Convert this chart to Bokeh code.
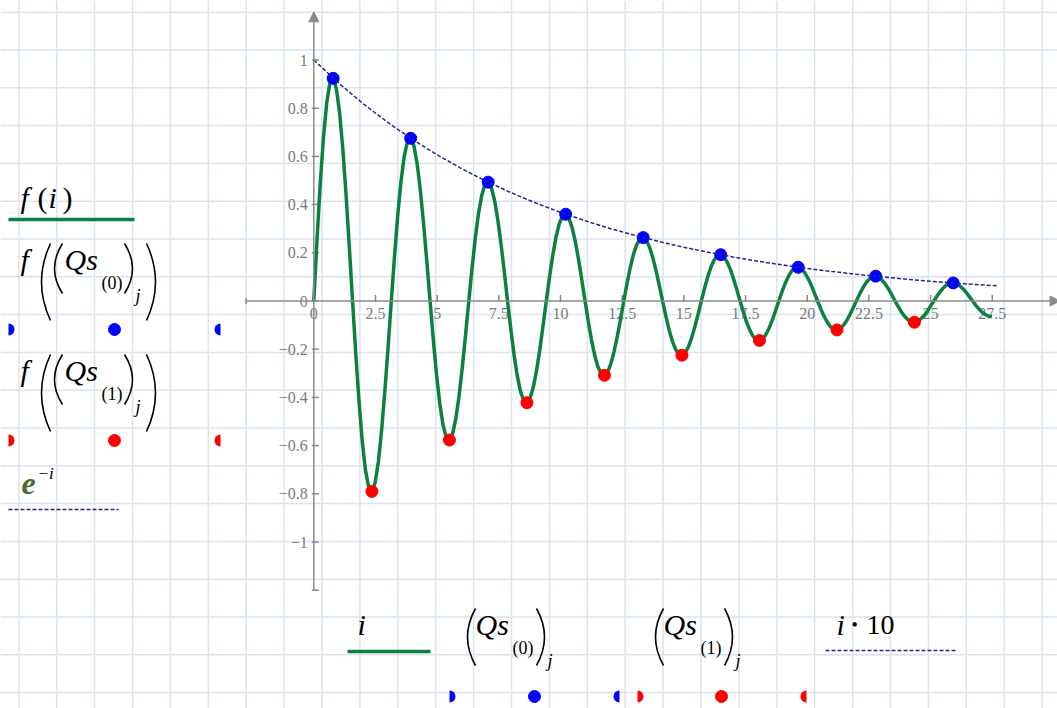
import numpy as np
from bokeh.plotting import figure
from bokeh.models import Range1d, Arrow, NormalHead
from bokeh.core.properties import value
from bokeh.embed import file_html
from bokeh.resources import INLINE

# ---------------------------------------------------------------- data
# f(i) sampled on a uniform grid of i (step in i units)
f_step = 0.1309
f_vals = [
    0, 0.255, 0.487, 0.680, 0.822, 0.905, 0.924, 0.881, 0.780, 0.629, 0.439, 0.224,
    0, -0.218, -0.416, -0.581, -0.702, -0.773, -0.790, -0.753, -0.667, -0.537, -0.375, -0.192,
    0, 0.187, 0.356, 0.497, 0.600, 0.661, 0.675, 0.644, 0.570, 0.459, 0.320, 0.164,
    0, -0.159, -0.304, -0.424, -0.513, -0.565, -0.577, -0.550, -0.487, -0.392, -0.274, -0.140,
    0, 0.136, 0.260, 0.363, 0.438, 0.483, 0.493, 0.470, 0.416, 0.335, 0.234, 0.120,
    0, -0.116, -0.222, -0.310, -0.375, -0.413, -0.422, -0.402, -0.356, -0.287, -0.200, -0.102,
    0, 0.100, 0.190, 0.265, 0.320, 0.353, 0.360, 0.343, 0.304, 0.245, 0.171, 0.087,
    0, -0.085, -0.162, -0.226, -0.274, -0.301, -0.308, -0.294, -0.260, -0.209, -0.146, -0.075,
    0, 0.073, 0.139, 0.194, 0.234, 0.257, 0.263, 0.251, 0.222, 0.179, 0.125, 0.064,
    0, -0.062, -0.118, -0.165, -0.200, -0.220, -0.225, -0.214, -0.190, -0.153, -0.107, -0.055,
    0, 0.053, 0.101, 0.141, 0.171, 0.188, 0.192, 0.183, 0.162, 0.131, 0.091, 0.047,
    0, -0.045, -0.087, -0.121, -0.146, -0.161, -0.164, -0.157, -0.139, -0.112, -0.078, -0.040,
    0, 0.039, 0.074, 0.103, 0.125, 0.137, 0.140, 0.134, 0.118, 0.095, 0.067, 0.034,
    0, -0.033, -0.063, -0.088, -0.107, -0.117, -0.120, -0.114, -0.101, -0.082, -0.057, -0.029,
    0, 0.028, 0.054, 0.075, 0.091, 0.100, 0.103, 0.098, 0.086, 0.070, 0.049, 0.025,
    0, -0.024, -0.046, -0.064, -0.078, -0.086, -0.088, -0.084, -0.074, -0.060, -0.042, -0.021,
    0, 0.021, 0.039, 0.055, 0.067, 0.073, 0.075, 0.071, 0.063, 0.051, 0.036, 0.018,
    0, -0.018, -0.034, -0.047, -0.057, -0.063, -0.064,
]

# maxima (Qs(0)) and minima (Qs(1))
qs0_x = [0.785, 3.927, 7.069, 10.210, 13.352, 16.493, 19.635, 22.777, 25.918]
qs0_y = [0.924, 0.675, 0.493, 0.360, 0.263, 0.192, 0.140, 0.103, 0.075]
qs1_x = [2.356, 5.498, 8.639, 11.781, 14.923, 18.064, 21.206, 24.347]
qs1_y = [-0.790, -0.577, -0.422, -0.308, -0.225, -0.164, -0.120, -0.088]

# envelope e^-i plotted against i*10
env_i = [0, 0.1, 0.2, 0.3, 0.4, 0.5, 0.6, 0.7, 0.8, 0.9, 1.0, 1.1, 1.2, 1.3, 1.4,
         1.5, 1.6, 1.7, 1.8, 1.9, 2.0, 2.1, 2.2, 2.3, 2.4, 2.5, 2.6, 2.7, 2.77]
env_vals = [1.0, 0.9048, 0.8187, 0.7408, 0.6703, 0.6065, 0.5488, 0.4966, 0.4493,
            0.4066, 0.3679, 0.3329, 0.3012, 0.2725, 0.2466, 0.2231, 0.2019, 0.1827,
            0.1653, 0.1496, 0.1353, 0.1225, 0.1108, 0.1003, 0.0907, 0.0821, 0.0743,
            0.0672, 0.0627]

x_ticks = [0, 2.5, 5, 7.5, 10, 12.5, 15, 17.5, 20, 22.5, 25, 27.5]
x_tick_labels = ["0", "2.5", "5", "7.5", "10", "12.5", "15", "17.5", "20", "22.5", "25", "27.5"]
y_ticks = [1, 0.8, 0.6, 0.4, 0.2, 0, -0.2, -0.4, -0.6, -0.8, -1]
y_tick_labels = ["1", "0.8", "0.6", "0.4", "0.2", "0", "\u22120.2", "\u22120.4",
                 "\u22120.6", "\u22120.8", "\u22121"]
x_lim = (-2.75, 30.25)
y_lim = (-1.2, 1.2)

# ---------------------------------------------------------------- styling
W, H = 1057, 708
GREEN = "#0b8040"
NAVY = "#26268c"
AXIS = "#8a8a8a"
LABEL = "#7a7a7a"
GRIDC = "#d9e4f0"
SERIF = value("Liberation Serif")

# screen placement of the plot origin and its scale (pixels per unit)
X0_PX, X_SCALE = 313.3, 24.67
Y0_PX, Y_SCALE = 300.5, 241.0

p = figure(width=W, height=H, x_range=Range1d(0, W), y_range=Range1d(H, 0),
           output_backend="svg", toolbar_location=None,
           x_axis_type=None, y_axis_type=None, min_border=0)
p.outline_line_color = None
p.background_fill_color = "white"
p.border_fill_color = "white"
p.extra_x_ranges = {"dx": Range1d(-X0_PX / X_SCALE, (W - X0_PX) / X_SCALE)}
p.extra_y_ranges = {"dy": Range1d((Y0_PX - H) / Y_SCALE, Y0_PX / Y_SCALE)}
D = dict(x_range_name="dx", y_range_name="dy")

# worksheet grid paper
gx = 18.3 + 37.9 * np.arange(28)
gy = 11.7 + 37.8 * np.arange(19)
p.segment(x0=gx, y0=0, x1=gx, y1=H, line_color=GRIDC, line_width=1.5)
p.segment(x0=0, y0=gy, x1=W, y1=gy, line_color=GRIDC, line_width=1.5)

# crossing axes with arrow heads
head = dict(size=10, fill_color=AXIS, line_color=AXIS, line_width=1)
p.add_layout(Arrow(end=NormalHead(**head), x_start=x_lim[0], y_start=0, x_end=x_lim[1], y_end=0,
                   line_color=AXIS, line_width=1.5, **D))
p.add_layout(Arrow(end=NormalHead(**head), x_start=0, y_start=y_lim[0], x_end=0, y_end=y_lim[1],
                   line_color=AXIS, line_width=1.5, **D))

tx_len = 6 / Y_SCALE
ty_len = 5 / X_SCALE
p.segment(x0=x_ticks, y0=-1 / Y_SCALE, x1=x_ticks, y1=tx_len, line_color=AXIS, line_width=1.5, **D)
p.segment(x0=[x_lim[0]], y0=[-tx_len / 2], x1=[x_lim[0]], y1=[tx_len / 2], line_color=AXIS, line_width=1.5, **D)
p.segment(x0=-2 / X_SCALE, y0=y_ticks, x1=ty_len, y1=y_ticks, line_color=AXIS, line_width=1.5, **D)
p.segment(x0=[-2 / X_SCALE], y0=[y_lim[0]], x1=[ty_len], y1=[y_lim[0]], line_color=AXIS, line_width=1.5, **D)

p.text(x=x_ticks, y=0, text=x_tick_labels, text_font=SERIF, text_font_size="16px",
       text_color=LABEL, text_align="center", text_baseline="top", y_offset=7, **D)
p.text(x=0, y=y_ticks, text=y_tick_labels, text_font=SERIF, text_font_size="16px",
       text_color=LABEL, text_align="right", text_baseline="middle", x_offset=-6, **D)

# traces
f_x = np.arange(len(f_vals)) * f_step
p.line(f_x, f_vals, line_color=GREEN, line_width=3.5, **D)
p.scatter(qs0_x, qs0_y, size=12, fill_color="#0000ff", line_color="#0000ff", **D)
p.scatter(qs1_x, qs1_y, size=12, fill_color="#ff0000", line_color="#ff0000", **D)
p.line(np.array(env_i) * 10, env_vals, line_color=NAVY, line_width=1.5, line_dash="4 2", **D)

# ---------------------------------------------------------------- trace labels
def txt(x, y, s, size, style="italic", color="black"):
    # y is the intended baseline; lift by the descent so the glyphs sit on it
    p.text(x=[x], y=[y - 0.3 * size], text=[s], text_font=SERIF, text_font_size=f"{size}px",
           text_font_style=style, text_color=color, text_baseline="alphabetic", text_align="left")


def paren(xe, top, bot, bulge, left=True):
    cx = xe - 2 * bulge if left else xe + 2 * bulge
    p.quadratic(x0=[xe], y0=[top], x1=[xe], y1=[bot], cx=[cx], cy=[(top + bot) / 2],
                line_color="black", line_width=1.6)


def qs_term(qx, base, sub, top, bot, lx, rx):
    paren(lx, top, bot, 8, left=True)
    txt(qx, base, "Qs", 30)
    txt(qx + 37, base + 20, sub, 18, style="normal")
    paren(rx, top, bot, 8, left=False)
    txt(rx + 11, base + 33, "j", 18)


def dots(y, xl, xm, xr, color):
    p.wedge(x=[xl], y=[y], radius=6, radius_units="screen", start_angle=-np.pi / 2,
            end_angle=np.pi / 2, fill_color=color, line_color=None)
    p.scatter(x=[xm], y=[y], size=12, fill_color=color, line_color=color)
    p.wedge(x=[xr], y=[y], radius=6, radius_units="screen", start_angle=np.pi / 2,
            end_angle=3 * np.pi / 2, fill_color=color, line_color=None)


# left column
txt(20, 206, "f", 30)
txt(37, 206, "(", 30, style="normal")
txt(48, 206, "i", 30)
txt(62, 206, ")", 30, style="normal")
p.segment(x0=[8], y0=[219], x1=[134], y1=[219], line_color=GREEN, line_width=3.5)

for k, (sub, col) in enumerate([("(0)", "#0000ff"), ("(1)", "#ff0000")]):
    oy = 111 * k
    txt(20, 268 + oy, "f", 30)
    paren(50, 243 + oy, 320 + oy, 9, left=True)
    qs_term(64, 268 + oy, sub, 243 + oy, 293 + oy, 62, 124)
    paren(146, 243 + oy, 320 + oy, 9, left=False)
    dots(329 + oy, 8, 114, 220, col)

txt(21, 493, "e", 32, style="bold italic", color="#4b6b2e")
txt(37, 478, "\u2212i", 17)
p.segment(x0=[8], y0=[509], x1=[118], y1=[509], line_color=NAVY, line_width=1.5, line_dash="4 2")

# bottom row
txt(357, 633, "i", 30)
p.segment(x0=[347], y0=[651], x1=[430], y1=[651], line_color=GREEN, line_width=3.5)

qs_term(475, 633, "(0)", 608, 665, 475, 536)
dots(696, 449, 534, 619, "#0000ff")
qs_term(663, 633, "(1)", 608, 665, 663, 724)
dots(696, 637, 721, 806, "#ff0000")

txt(836, 633, "i", 30)
txt(851, 630, "\u2022", 18, style="normal")
txt(866, 633, "10", 28, style="normal")
p.segment(x0=[825], y0=[650], x1=[956], y1=[650], line_color=NAVY, line_width=1.5, line_dash="4 2")

open("out.html", "w").write(file_html(p, INLINE))
